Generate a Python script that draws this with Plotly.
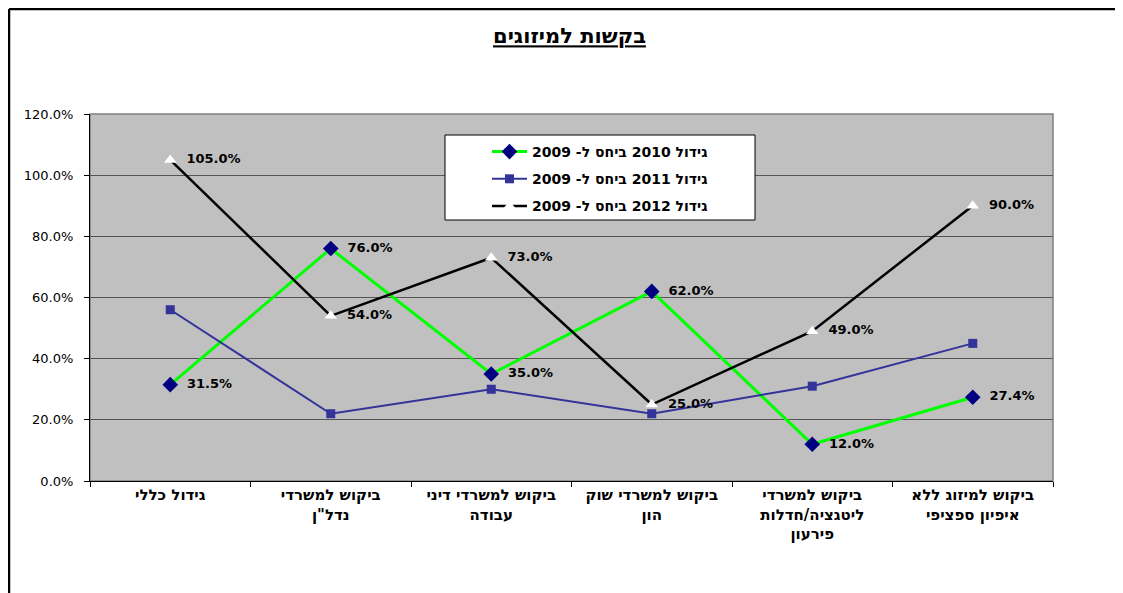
import plotly.graph_objects as go

# categories (x axis)
categories = [
    "גידול כללי",
    "ביקוש למשרדי<br>נדל\"ן",
    "ביקוש למשרדי דיני<br>עבודה",
    "ביקוש למשרדי שוק<br>הון",
    "ביקוש למשרדי<br>ליטגציה/חדלות<br>פירעון",
    "ביקוש למיזוג ללא<br>איפיון ספציפי",
]

# growth relative to 2009
growth_2010 = [0.315, 0.76, 0.35, 0.62, 0.12, 0.274]
growth_2011 = [0.56, 0.22, 0.30, 0.22, 0.31, 0.45]
growth_2012 = [1.05, 0.54, 0.73, 0.25, 0.49, 0.90]

y_ticks = [0, 0.2, 0.4, 0.6, 0.8, 1.0, 1.2]

font_main = "DejaVu Sans, Verdana, sans-serif"
label_font = dict(family=font_main, size=13, color="black")

fig = go.Figure()

fig.add_trace(go.Scatter(
    x=categories, y=growth_2010,
    name="<b>גידול 2010 ביחס ל- 2009</b>",
    legendgroup="a",
    mode="lines+markers+text",
    line=dict(color="#00FF00", width=3),
    marker=dict(symbol="diamond", size=12, color="#000080"),
    text=[f"<b>{v:.1%}</b>" for v in growth_2010],
    textposition="middle right",
    texttemplate="  %{text}",
    textfont=label_font,
))

fig.add_trace(go.Scatter(
    x=categories, y=growth_2011,
    name="<b>גידול 2011 ביחס ל- 2009</b>",
    legendgroup="b",
    mode="lines+markers",
    line=dict(color="#333399", width=2),
    marker=dict(symbol="square", size=9, color="#333399"),
))

fig.add_trace(go.Scatter(
    x=categories, y=growth_2012,
    name="<b>גידול 2012 ביחס ל- 2009</b>",
    legendgroup="c",
    mode="lines+markers+text",
    line=dict(color="black", width=2.5),
    marker=dict(symbol="triangle-up", size=11, color="white"),
    text=[f"<b>{v:.1%}</b>" for v in growth_2012],
    textposition="middle right",
    texttemplate="  %{text}",
    textfont=label_font,
))

# plot area in paper units: left 82, width 963, top 106, height 367 (page adds 8px offset)
px_w, px_h = 963, 367

fig.update_layout(
    width=1123, height=593,
    margin=dict(l=82, r=78, t=106, b=120),
    paper_bgcolor="white",
    plot_bgcolor="#C0C0C0",
    font=dict(family=font_main, size=13, color="black"),
    title=dict(
        text="<b><u>בקשות למיזוגים</u></b>",
        x=0.5, xanchor="center", y=1 - 28 / 593, yanchor="middle",
        font=dict(family=font_main, size=21, color="black"),
    ),
    showlegend=True,
    legend=dict(
        x=(600 - 90) / px_w, xanchor="center", y=1 - (136 - 114) / px_h, yanchor="top",
        bgcolor="rgba(0,0,0,0)", borderwidth=0,
        font=dict(family=font_main, size=14, color="black"),
        itemwidth=35, tracegroupgap=6,
    ),
    shapes=[
        # plot area outline
        dict(type="rect", xref="x domain", yref="y domain",
             x0=0, x1=1, y0=0, y1=1, line=dict(color="#808080", width=1.5), layer="below"),
        # legend box
        dict(type="rect", xref="paper", yref="paper",
             x0=(445 - 90) / px_w, x1=(755 - 90) / px_w,
             y0=1 - (220 - 114) / px_h, y1=1 - (135 - 114) / px_h,
             line=dict(color="black", width=1), fillcolor="white", layer="above"),
        # outer chart border (left and top)
        dict(type="line", xref="paper", yref="paper",
             x0=-81 / px_w, x1=-81 / px_w, y0=-130 / px_h, y1=105 / px_h + 1,
             line=dict(color="black", width=2.5)),
        dict(type="line", xref="paper", yref="paper",
             x0=-81 / px_w, x1=1.1, y0=105 / px_h + 1, y1=105 / px_h + 1,
             line=dict(color="black", width=2.5)),
    ],
)

fig.update_xaxes(
    type="category",
    range=[-0.5, len(categories) - 0.5],
    tickson="boundaries",
    ticks="outside", ticklen=5, tickcolor="black",
    showline=True, linecolor="black", linewidth=1,
    showgrid=False,
    tickfont=dict(family=font_main, size=15, color="black", weight="bold"),
)

fig.update_yaxes(
    range=[0, 1.2],
    tickvals=y_ticks,
    tickformat=".1%",
    ticks="outside", ticklen=5, tickcolor="black",
    ticklabelstandoff=8,
    showline=True, linecolor="black", linewidth=1,
    showgrid=True, gridcolor="#555555", gridwidth=1,
    zeroline=False,
    tickfont=dict(family=font_main, size=13, color="black"),
)

fig.write_html("out.html")
